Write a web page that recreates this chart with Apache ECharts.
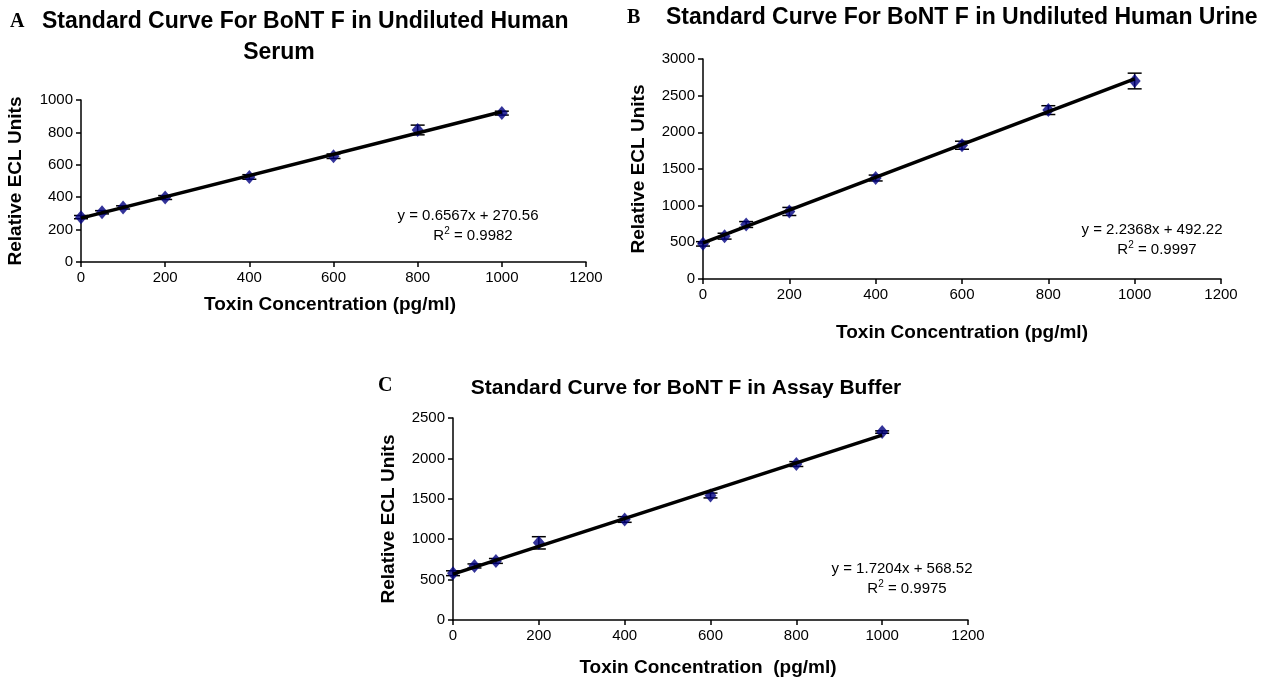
<!DOCTYPE html>
<html>
<head>
<meta charset="UTF-8">
<script src="https://cdn.jsdelivr.net/npm/echarts@6/dist/echarts.min.js"></script>
<style>
  html, body { margin: 0; padding: 0; background: #fff; }
  #main { width: 1265px; height: 680px; }
</style>
</head>
<body>
<div id="main"></div>
<script type="text/javascript">
// toxin concentrations (pg/ml), same for all three panels
var conc = [0, 50, 100, 200, 400, 600, 800, 1000];

// A: undiluted human serum
var serumY   = [277, 307, 337, 398, 525, 653, 815, 919];
var serumErr = [10, 10, 10, 12, 14, 14, 30, 12];
var serumFit = [[0, 270.56], [1000, 927.26]];

// B: undiluted human urine
var urineY   = [479, 584, 743, 921, 1377, 1824, 2303, 2700];
var urineErr = [30, 40, 40, 55, 40, 55, 60, 107];
var urineFit = [[0, 492.22], [1000, 2729.02]];

// C: assay buffer
var bufferY   = [579, 669, 731, 955, 1244, 1541, 1930, 2326];
var bufferErr = [30, 25, 30, 76, 35, 30, 30, 15];
var bufferFit = [[0, 568.52], [1000, 2288.92]];

var yMaxA = 1000, yStepA = 200;
var yMaxB = 3000, yStepB = 500;
var yMaxC = 2500, yStepC = 500;

var FONT = 'Liberation Sans, Arial, sans-serif';
var SERIF = 'Liberation Serif, Times New Roman, serif';
var chart = echarts.init(document.getElementById('main'));

function pts(ys) {
  return conc.map(function (x, i) { return [x, ys[i]]; });
}
function errs(ys, es) {
  return conc.map(function (x, i) { return [x, ys[i] - es[i], ys[i] + es[i]]; });
}
function plain(v) { return String(v); }

function xAxisFor(idx) {
  return {
    gridIndex: idx, type: 'value', min: 0, max: 1200, interval: 200,
    axisLine: { lineStyle: { color: '#000', width: 1.5 } },
    axisTick: { length: 5, lineStyle: { color: '#000', width: 1.5 } },
    axisLabel: { color: '#000', fontSize: 15, fontFamily: FONT, margin: 8, formatter: plain },
    splitLine: { show: false }
  };
}
function yAxisFor(idx, max, step) {
  return {
    gridIndex: idx, type: 'value', min: 0, max: max, interval: step,
    axisLine: { show: true, lineStyle: { color: '#000', width: 1.5 } },
    axisTick: { show: true, length: 5, lineStyle: { color: '#000', width: 1.5 } },
    axisLabel: { color: '#000', fontSize: 15, fontFamily: FONT, margin: 8, formatter: plain },
    splitLine: { show: false }
  };
}

function errorSeries(idx, data) {
  return {
    type: 'custom', xAxisIndex: idx, yAxisIndex: idx, z: 2,
    data: data, silent: true,
    renderItem: function (params, api) {
      var x = api.value(0);
      var lo = api.coord([x, api.value(1)]);
      var hi = api.coord([x, api.value(2)]);
      var w = 7;
      var st = { stroke: '#000', lineWidth: 1.5 };
      return {
        type: 'group',
        children: [
          { type: 'line', shape: { x1: lo[0], y1: lo[1], x2: hi[0], y2: hi[1] }, style: st },
          { type: 'line', shape: { x1: lo[0] - w, y1: lo[1], x2: lo[0] + w, y2: lo[1] }, style: st },
          { type: 'line', shape: { x1: hi[0] - w, y1: hi[1], x2: hi[0] + w, y2: hi[1] }, style: st }
        ]
      };
    }
  };
}
function pointSeries(idx, data) {
  return {
    type: 'scatter', xAxisIndex: idx, yAxisIndex: idx, z: 3,
    symbol: 'diamond', symbolSize: [12, 14],
    itemStyle: { color: '#000080' },
    data: data
  };
}
function fitSeries(idx, data) {
  return {
    type: 'line', xAxisIndex: idx, yAxisIndex: idx, z: 4,
    showSymbol: false, symbol: 'none',
    lineStyle: { color: '#000', width: 3.5 },
    data: data
  };
}

function txt(x, y, s, size, opts) {
  opts = opts || {};
  return {
    type: 'text', x: x, y: y, rotation: opts.rot || 0,
    style: {
      text: s, fill: '#000',
      font: 'bold ' + size + 'px ' + (opts.family || FONT),
      align: opts.align || 'left', verticalAlign: 'middle'
    }
  };
}
var eqRich = {
  n: { fontSize: 15, fontFamily: FONT, fill: '#000' },
  s: { fontSize: 10, fontFamily: FONT, fill: '#000', verticalAlign: 'top', padding: [0, 0, 9, 0] }
};
function eq(x, y, line1, r2) {
  return [
    { type: 'text', x: x, y: y, style: { text: line1, font: '15px ' + FONT, fill: '#000', align: 'center', verticalAlign: 'middle' } },
    { type: 'text', x: x + 5, y: y + 20, style: { text: '{n|R}{s|2}{n| = ' + r2 + '}', rich: eqRich, align: 'center', verticalAlign: 'middle' } }
  ];
}

var option = {
  backgroundColor: '#fff',
  animation: false,
  grid: [
    { left: 81, top: 100, width: 505, height: 162 },
    { left: 703, top: 59, width: 518, height: 220 },
    { left: 453, top: 418, width: 515, height: 202 }
  ],
  xAxis: [xAxisFor(0), xAxisFor(1), xAxisFor(2)],
  yAxis: [yAxisFor(0, yMaxA, yStepA), yAxisFor(1, yMaxB, yStepB), yAxisFor(2, yMaxC, yStepC)],
  series: [
    errorSeries(0, errs(serumY, serumErr)), pointSeries(0, pts(serumY)), fitSeries(0, serumFit),
    errorSeries(1, errs(urineY, urineErr)), pointSeries(1, pts(urineY)), fitSeries(1, urineFit),
    errorSeries(2, errs(bufferY, bufferErr)), pointSeries(2, pts(bufferY)), fitSeries(2, bufferFit)
  ],
  graphic: [
    // panel letters
    txt(10, 22, 'A', 20, { family: SERIF }),
    txt(627, 18, 'B', 20, { family: SERIF }),
    txt(378, 386, 'C', 20, { family: SERIF }),
    // titles
    txt(42, 22, 'Standard Curve For BoNT F in Undiluted Human', 23),
    txt(279, 53, 'Serum', 23, { align: 'center' }),
    txt(666, 18, 'Standard Curve For BoNT F in Undiluted Human Urine', 23),
    txt(686, 388, 'Standard Curve for BoNT F in Assay Buffer', 21, { align: 'center' }),
    // axis titles
    txt(330, 305, 'Toxin Concentration (pg/ml)', 19, { align: 'center' }),
    txt(962, 333, 'Toxin Concentration (pg/ml)', 19, { align: 'center' }),
    txt(708, 668, 'Toxin Concentration  (pg/ml)', 19, { align: 'center' }),
    txt(16, 181, 'Relative ECL Units', 19, { align: 'center', rot: Math.PI / 2 }),
    txt(639, 169, 'Relative ECL Units', 19, { align: 'center', rot: Math.PI / 2 }),
    txt(389, 519, 'Relative ECL Units', 19, { align: 'center', rot: Math.PI / 2 })
  ].concat(
    eq(468, 216, 'y = 0.6567x + 270.56', '0.9982'),
    eq(1152, 230, 'y = 2.2368x + 492.22', '0.9997'),
    eq(902, 569, 'y = 1.7204x + 568.52', '0.9975')
  )
};

chart.setOption(option);
</script>
</body>
</html>
